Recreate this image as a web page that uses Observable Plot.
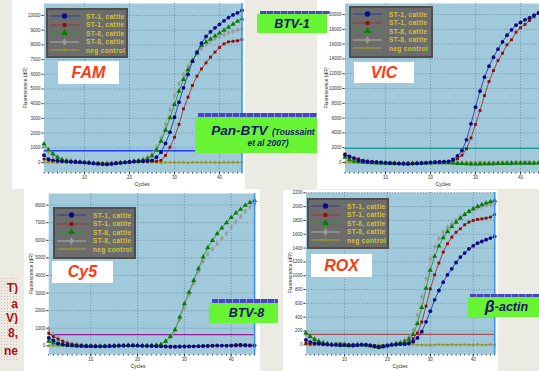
<!DOCTYPE html>
<html><head><meta charset="utf-8">
<script src="https://cdn.jsdelivr.net/npm/d3@7"></script>
<script src="https://cdn.jsdelivr.net/npm/@observablehq/plot@0.6"></script>
<style>
html,body{margin:0;padding:0;width:539px;height:371px;overflow:hidden;background:#ebebe3;font-family:"Liberation Sans",Arial,sans-serif;}
.abs{position:absolute}
.panel{position:absolute;background:#fff;overflow:hidden}
.panel svg{display:block}
.ylab{position:absolute;font-size:5px;color:#222;transform:translate(-50%,-50%) rotate(-90deg);white-space:nowrap}
.xlab{position:absolute;font-size:5px;color:#222;transform:translate(-50%,-50%);white-space:nowrap}
.legend{position:absolute;background:#6c6c6c;border:2px solid #4e4e4e;box-sizing:border-box}
.legrow{position:absolute;left:2px;height:8px;display:flex;align-items:center}
.legrow span{font-size:6.5px;color:#d4c23a;font-weight:bold;letter-spacing:0.35px;margin-left:7px;white-space:nowrap}
.dye{position:absolute;background:#fff;color:#ff3a12;font-weight:bold;font-style:italic;font-size:16px;display:flex;align-items:center;justify-content:center}
.tag{position:absolute;background:#66f433;color:#16166a;font-weight:bold;font-style:italic;display:flex;align-items:center;justify-content:center;white-space:nowrap}
.strip{position:absolute;background:repeating-linear-gradient(90deg,#4646c0 0 6px,#8a8ae0 6px 7px);}
.side{position:absolute;left:0;width:18px;text-align:right;color:#a31515;font-weight:bold;font-size:12px;line-height:1;white-space:nowrap;overflow:hidden;direction:rtl}
</style></head><body>
<div id="root"></div>
<script>
// ---------- data ----------
const cycles = [1,2,3,4,5,6,7,8,9,10,11,12,13,14,15,16,17,18,19,20,21,22,23,24,25,26,27,28,29,30,31,32,33,34,35,36,37,38,39,40,41,42,43,44,45];
const xTickLabels = [10,20,30,40];
const seriesNames = ["ST-1, cattle","ST-1, cattle","ST-8, cattle","ST-8, cattle","neg control"];

// FAM
const famST1a = [500,230,150,120,90, 60,50,40,20,0, -30,-60,-80,-100,-120, -90,-50,-20,10,40, 60,80,90,100,140, 360,700,1300,2060,3080, 4100,5080,5990,6890,7500, 8120,8570,8890,9160,9390, 9640,9860,10040,10180,10340];
const famST1b = [230,160,140,110,90, 70,60,40,20,0, -20,-50,-80,-110,-130, -100,-60,-20,10,50, 80,100,110,110,100, 90,140,480,1040,1720, 2590,3650,4440,5240,5870, 6370,6780,7170,7510,7820, 8070,8210,8250,8280,8370];
const famST8a = [1270,860,590,360,180, 100,60,40,20,0, -20,-60,-80,-100,-110, -90,-60,-20,10,40, 70,100,150,250,450, 850,1450,2200,3050,3950, 4850,5650,6300,6900,7450, 7950,8200,8400,8600,8800, 9000,9200,9400,9600,9780];
const famST8b = [1110,700,450,320,230, 180,140,100,60,20, -20,-50,-80,-100,-110, -90,-50,-10,20,50, 90,130,200,360,600, 1050,1700,2600,3600,4550, 5350,6000,6550,7000,7400, 7750,8030,8250,8410,8570, 8710,8820,8910,9020,9090];
const famNeg = [0,10,0,-10,0, 10,0,0,-10,0, 10,0,0,-10,0, 0,10,0,0,-10, 0,10,0,0,10, 0,-10,0,0,10, 0,0,-10,0,10, 0,0,10,0,-10, 0,0,10,0,0];
const famTicks = [0,1000,2000,3000,4000,5000,6000,7000,8000,9000,10000];
const famThreshold = 800;

// VIC
const vicST1a = [1040,810,600,270,180, 120,80,40,0,-40, -80,-120,-150,-160,-170, -150,-120,-80,-40,0, 40,80,110,150,405, 900,1620,3060,5230,7480, 9640,11530,13020,14230,15320, 16300,17200,17930,18560,18920, 19280,19550,19900,20200,20450];
const vicST1b = [1170,720,585,500,300, 200,120,60,20,-20, -60,-100,-130,-150,-160, -140,-110,-70,-30,10, 50,80,100,130,180, 500,990,1850,3330,5140, 7030,9050,10950,12430,13780, 14770,15900,16580,17610,18200, 18650,19190,19700,20270,20500];
const vicST8a = [720,360,200,100,40, 0,-30,-60,-80,-100, -120,-140,-150,-160,-160, -150,-130,-110,-80,-60, -40,-20,-20,-40,-80, -120,-150,-180,-200,-220, -200,-180,-170,-160,-150, -140,-130,-120,-110,-100, -100,-90,-90,-80,-80];
const vicST8b = [900,550,350,200,100, 50,20,-10,-30,-50, -70,-90,-100,-110,-110, -100,-80,-60,-30,-10, 10,30,30,10,-20, -60,-90,-110,-130,-140, -130,-120,-110,-100,-90, -80,-70,-60,-50,-40, -40,-30,-30,-20,-20];
const vicNeg = [0,0,-20,0,20, 0,0,-20,0,0, 20,0,-20,0,0, 20,0,0,-20,0, 0,20,0,0,20, 40,20,0,0,20, 40,20,0,20,40, 60,80,100,120,100, 80,60,40,20,0];
const vicTicks = [0,2000,4000,6000,8000,10000,12000,14000,16000,18000,20000];
const vicThreshold = 1900;

// Cy5
const cy5ST1a = [450,300,140,80,40, 20,0,-10,-20,-20, -30,-30,-20,-10,0, 10,20,20,20,10, 0,0,-10,-20,-30, -40,-50,-50,-40,-40, -30,-30,-20,-10,0, 10,20,10,0,10, 20,30,20,10,10];
const cy5ST1b = [720,530,380,250,150, 90,50,30,10,0, -10,-20,-30,-30,-20, -10,0,10,10,10, 0,-10,-20,-30,-40, -50,-60,-60,-60,-50, -50,-40,-40,-30,-20, -10,0,10,20,30, 60,80,60,40,30];
const cy5ST8a = [260,160,100,60,30, 10,0,-10,-20,-20, -30,-30,-20,-10,0, 10,10,20,20,20, 10,10,20,30,74, 264,530,910,1630,2390, 3050,3720,4380,5050,5580, 5990,6370,6700,7000,7300, 7550,7760,7990,8150,8270];
const cy5ST8b = [970,640,440,280,170, 100,60,30,10,0, -10,-20,-20,-10,0, 10,20,20,30,30, 20,20,30,40,80, 245,490,870,1500,2160, 2920,3560,4230,4800,5200, 5500,5800,6100,6400,6750, 7050,7350,7650,7900,8100];
const cy5Neg = [0,0,10,0,-10, 0,0,10,0,0, -10,0,0,10,0, 0,-10,0,0,10, 0,0,-10,0,0, 10,0,0,-10,0, 0,10,0,0,-10, 0,0,10,0,0, -10,0,0,10,0];
const cy5Ticks = [0,1000,2000,3000,4000,5000,6000,7000,8000];
const cy5Threshold = 630;

// ROX
const roxST1a = [70,40,25,20,10, 5,0,0,-5,-5, -10,-10,-5,0,0, -10,-20,-30,-20,-10, 0,5,10,10,20, 45,100,190,333,487, 651,786,907,1013,1100, 1191,1269,1327,1389,1433, 1471,1495,1520,1544,1568];
const roxST1b = [20,10,10,10,5, 5,0,10,15,10, 5,0,0,5,5, -5,-15,-25,-20,-10, 0,10,15,20,30, 90,170,330,560,810, 1013,1182,1341,1462,1558, 1630,1679,1737,1775,1799, 1814,1823,1833,1848,1886];
const roxST8a = [170,120,80,50,30, 15,5,0,-5,-5, -10,-5,0,0,-5, -15,-30,-40,-30,-15, 0,15,25,45,80, 150,310,540,820,1080, 1280,1430,1550,1640,1710, 1775,1830,1885,1930,1968, 2002,2026,2050,2070,2089];
const roxST8b = [150,110,75,50,30, 15,5,0,-5,-5, -10,-5,0,0,-5, -15,-30,-40,-30,-15, 5,20,40,70,110, 210,430,700,960,1245, 1420,1540,1630,1700,1755, 1805,1850,1890,1925,1955, 1980,2000,2018,2030,2040];
const roxNeg = [5,0,0,5,0, 0,5,0,0,-5, 0,0,5,0,0, 0,-5,0,0,5, 0,0,5,0,0, 5,0,0,-5,0, 0,5,0,0,5, 0,0,5,0,0, 5,0,0,5,0];
const roxTicks = [0,200,400,600,800,1000,1200,1400,1600,1800,2000,2200];
const roxThreshold = 150;

// ---------- styles ----------
const lineColors = ["#2a3a9e","#a33030","#2a962a","#b0b0b0","#a3a332"];
const markColors = ["#0a0a86","#8c0c0c","#087a08","#9a9a9a","#8f8f20"];
const symbols = ["circle","square","triangle","diamond","star"];
const radii = [1.9,1.6,1.9,1.8,1.3];
const drawOrder = [4,3,1,2,0];
const plotBg = "#a0cadb";
const gridColor = "#5a7888";

const root = document.getElementById("root");
function el(tag, cls, css, html){ const e=document.createElement(tag); if(cls) e.className=cls; if(css) e.style.cssText=css; if(html!=null) e.innerHTML=html; root.appendChild(e); return e; }

const panels = [
  {left:12, top:0, w:233, h:189, ml:31.5, mr:3.5, mt:3, mb:17, yDomain:[-680,10816], ticks:famTicks, thr:famThreshold, thrColor:"#1f3cff",
   series:[famST1a,famST1b,famST8a,famST8b,famNeg], ylab:[25,88], xlab:[142,183.5]},
  {left:317, top:0, w:230, h:189, ml:27.5, mr:4.5, mt:3, mb:17, yDomain:[-1350,21490], ticks:vicTicks, thr:vicThreshold, thrColor:"#1d9a98",
   series:[vicST1a,vicST1b,vicST8a,vicST8b,vicNeg], ylab:[326,88], xlab:[443,183.5]},
  {left:24, top:189, w:236, h:182, ml:24.2, mr:5.9, mt:4, mb:17, yDomain:[-495,8663], ticks:cy5Ticks, thr:cy5Threshold, thrColor:"#9b1b9b",
   series:[cy5ST1a,cy5ST1b,cy5ST8a,cy5ST8b,cy5Neg], ylab:[31,274], xlab:[138,365.5]},
  {left:283, top:190, w:215, h:181, ml:22.4, mr:3.8, mt:2, mb:17, yDomain:[-140,2204], ticks:roxTicks, thr:roxThreshold, thrColor:"#a84c4c",
   series:[roxST1a,roxST1b,roxST8a,roxST8b,roxNeg], ylab:[290,273], xlab:[400,365.5]}
];

for (const p of panels) {
  const div = el("div","panel",`left:${p.left}px;top:${p.top}px;width:${p.w}px;height:${p.h}px`);
  const marks = [
    Plot.frame({fill: plotBg, stroke: null}),
    Plot.gridX(xTickLabels, {stroke: gridColor, strokeOpacity: 0.9, strokeDasharray: "1,1.8", strokeWidth: 0.8}),
    Plot.gridY(p.ticks, {stroke: gridColor, strokeOpacity: 0.9, strokeDasharray: "1,1.8", strokeWidth: 0.8}),
    Plot.axisX(cycles, {tickSize: 1.5, tickFormat: () => "", color: "#444"}),
    Plot.axisX(xTickLabels, {tickSize: 2.5, fontSize: 4.5, tickPadding: 0.8, color: "#333", tickFormat: d => String(d)}),
    Plot.axisY(p.ticks, {tickSize: 2, fontSize: 4.5, tickPadding: 1.5, color: "#333", tickFormat: d => String(d)}),
    Plot.ruleY([p.thr], {stroke: p.thrColor, strokeWidth: 1.3})
  ];
  for (const s of drawOrder) {
    const d = p.series[s].map((v,i) => ({c: cycles[i], v}));
    marks.push(Plot.line(d, {x:"c", y:"v", stroke: lineColors[s], strokeWidth: 0.9}));
    marks.push(Plot.dot(d, {x:"c", y:"v", symbol: symbols[s], r: radii[s], fill: markColors[s], stroke: "none"}));
  }
  marks.push(Plot.ruleX([45], {stroke: "#3f95ee", strokeWidth: 1.6}));
  const svg = Plot.plot({
    width: p.w, height: p.h,
    marginLeft: p.ml, marginRight: p.mr, marginTop: p.mt, marginBottom: p.mb,
    style: {background: "transparent", fontFamily: "Liberation Sans, Arial, sans-serif", overflow: "visible"},
    x: {domain: [1,45], label: null},
    y: {domain: p.yDomain, label: null},
    marks
  });
  div.appendChild(svg);
  el("div","ylab",`left:${p.ylab[0]}px;top:${p.ylab[1]}px`,"Fluorescence (dR)");
  el("div","xlab",`left:${p.xlab[0]}px;top:${p.xlab[1]}px`,"Cycles");
}

// legends
const legends = [[46,8,82,50],[349,6,84,52],[53,207,83,52],[307,198,82,51]];
for (const [x,y,w,h] of legends) {
  const L = el("div","legend",`left:${x}px;top:${y}px;width:${w}px;height:${h}px`);
  seriesNames.forEach((name,s) => {
    const row = document.createElement("div");
    row.className = "legrow";
    row.style.top = (2 + s*8.6) + "px";
    const sym = d3.symbol(d3[{circle:"symbolCircle",square:"symbolSquare",triangle:"symbolTriangle",diamond:"symbolDiamond",star:"symbolStar"}[symbols[s]]], [22,14,20,18,10][s])();
    row.innerHTML = `<svg width="29" height="8"><line x1="0" y1="4" x2="29" y2="4" stroke="${lineColors[s]}" stroke-width="1"/><path d="${sym}" transform="translate(14.5,4)" fill="${markColors[s]}"/></svg><span>${name}</span>`;
    L.appendChild(row);
  });
}

// dye labels
const dyes = [["FAM",58,61,61,23],["VIC",354,62,60,21],["Cy5",52,261,61,22],["ROX",311,254,61,23]];
for (const [t,x,y,w,h] of dyes) el("div","dye",`left:${x}px;top:${y}px;width:${w}px;height:${h}px`,t);

// target tags
el("div","strip","left:260px;top:11px;width:70px;height:3px");
el("div","tag","left:257px;top:14px;width:70px;height:19px;font-size:12.5px","BTV-1");
el("div","strip","left:198px;top:113px;width:119px;height:4px");
el("div","tag","left:195px;top:117px;width:122px;height:36px;flex-direction:column;line-height:1.15",
  `<div style="padding-left:14px"><span style="font-size:13.5px">Pan-BTV</span> <span style="font-size:8.5px">(Toussaint</span></div><div style="font-size:8.5px;padding-left:24px">et al 2007)</div>`);
el("div","strip","left:212px;top:299px;width:66px;height:4px");
el("div","tag","left:209px;top:303px;width:69px;height:20px;font-size:12.5px;padding-left:6px;box-sizing:border-box","BTV-8");
el("div","strip","left:470px;top:294px;width:69px;height:3px");
el("div","tag","left:468px;top:297px;width:71px;height:20px;font-size:12.5px;padding-left:6px;box-sizing:border-box",`<span style="font-size:16px">β</span>-actin`);

// cut-off slide text on the left
el("div","abs","left:0;top:277px;width:18px;height:84px;background-image:radial-gradient(#e6b4b4 0.6px, transparent 0.8px);background-size:3px 3px");
const sideLines = [["T)",288],["a",304],["V)",318],["8,",333],["ne",351]];
for (const [t,y] of sideLines) el("div","side",`top:${y-6}px`,`<bdi>${t}</bdi>`);
</script>
</body></html>
